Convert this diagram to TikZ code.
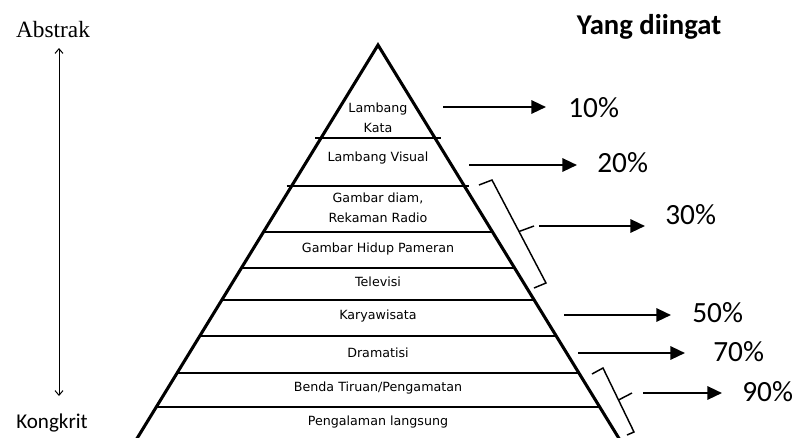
\documentclass[tikz,border=0pt]{standalone}
\usepackage{fontspec}
\setmainfont{Liberation Serif}
\setsansfont{Carlito}
\newfontfamily\levelfont{DejaVu Sans}
\usetikzlibrary{arrows.meta,calc}

\tikzset{
  pyramid edge/.style={line width=2.3pt},
  level line/.style={line width=0.9pt},
  level label/.style={font=\levelfont\fontsize{9.5}{15}\selectfont,align=center,inner sep=0pt},
  percent label/.style={font=\sffamily\fontsize{22}{24}\selectfont,anchor=west,inner sep=0pt},
  result arrow/.style={line width=1.7pt,-{Triangle[length=11pt,width=10pt]}},
  scale arrow/.style={line width=0.75pt,{Straight Barb[length=3.5pt,width=6pt]}-{Straight Barb[length=3.5pt,width=6pt]}},
  group bracket/.style={line width=1.1pt}
}

\begin{document}
\begin{tikzpicture}[x=0.75pt,y=-0.75pt]
  \useasboundingbox (0,0) rectangle (794,437);
  % pyramid
  \coordinate (top) at (378,45);
  \coordinate (bl) at (133,445);
  \coordinate (br) at (623,445);
  \foreach \y/\e in {138/6,186/5,232/1,268/1,300/0,336/0,373/0,407/0} {
    \pgfmathsetmacro\t{(\y-45)/400}
    \draw[level line] ($(top)!\t!(bl)+(-\e,0)$) -- ($(top)!\t!(br)+(\e,0)$);
  }
  \draw[pyramid edge] (bl) -- (top) -- (br);

  % levels
  \node[level label] (kata) at (378,118) {Lambang\\Kata};
  \node[level label] (visual) at (378,158) {Lambang Visual};
  \node[level label] (diam) at (378,207.5) {Gambar diam,\\Rekaman Radio};
  \node[level label] (hidup) at (378,249) {Gambar Hidup Pameran};
  \node[level label] (tv) at (378,282) {Televisi};
  \node[level label] (wisata) at (378,316) {Karyawisata};
  \node[level label] (drama) at (378,353) {Dramatisi};
  \node[level label] (benda) at (378,388) {Benda Tiruan/Pengamatan};
  \node[level label] (langsung) at (378,422) {Pengalaman langsung};

  % left scale
  \node[font=\fontsize{17.5}{20}\selectfont] (abs) at (53,30) {Abstrak};
  \node[font=\sffamily\fontsize{15.8}{18}\selectfont] (kon) at (52,423) {Kongkrit};
  \coordinate (scaletop) at (59,48);
  \coordinate (scalebot) at (59,396);
  \draw[scale arrow] (scaletop) -- (scalebot);

  % right side
  \node[font=\sffamily\bfseries\fontsize{21.5}{24}\selectfont] (ydi) at (649,27) {Yang diingat};
  \node[percent label] (p10) at (568,108) {10\%};
  \node[percent label] (p20) at (597,163) {20\%};
  \node[percent label] (p30) at (665,215) {30\%};
  \node[percent label] (p50) at (692,313) {50\%};
  \node[percent label] (p70) at (713,352) {70\%};
  \node[percent label] (p90) at (742,392) {90\%};

  \draw[group bracket] (479,185) -- (492,180) -- (546,283) -- (534,288);
  \draw[group bracket] (519,231.5) -- (534,226);
  \draw[group bracket] (592,374) -- (603,368) -- (634,432) -- (627,435);
  \draw[group bracket] (618.5,400) -- (632,393);

  \coordinate (s10) at (443,107);
  \coordinate (s20) at (469,165);
  \coordinate (s30) at (539,226);
  \coordinate (s50) at (564,315);
  \coordinate (s70) at (578,353);
  \coordinate (s90) at (643,393);
  \foreach \n/\g in {10/16.5pt,20/15pt,30/15pt,50/15.75pt,70/21pt,90/15pt}
    \draw[result arrow,shorten >=\g] (s\n) -- (s\n -| p\n.west);
\end{tikzpicture}
\end{document}
